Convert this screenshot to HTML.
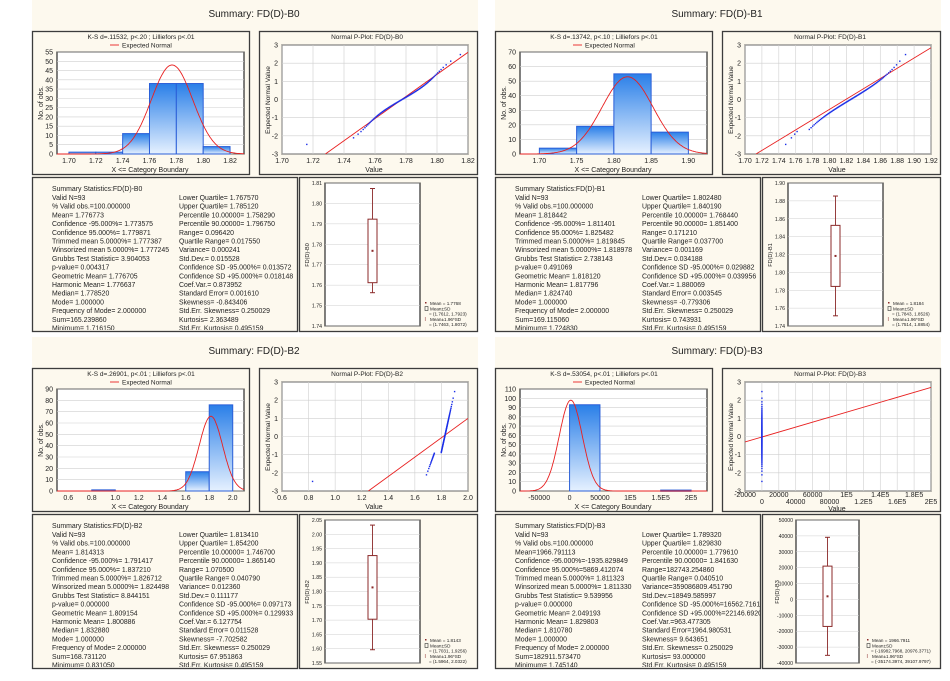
<!DOCTYPE html>
<html><head><meta charset="utf-8"><style>
html,body{margin:0;padding:0;background:#fff;width:950px;height:681px;overflow:hidden}
svg{display:block;font-family:"Liberation Sans",Arial,sans-serif}
</style></head><body>
<svg id="s" width="950" height="681" xmlns="http://www.w3.org/2000/svg">
<defs>
<linearGradient id="bg" x1="0" y1="0" x2="0" y2="1"><stop offset="0" stop-color="#2a7fe8"/><stop offset="1" stop-color="#e6f1ff"/></linearGradient>
</defs>
</svg>
<script>
const S=document.getElementById('s');const NS='http://www.w3.org/2000/svg';
function el(t,a,txt,p){const e=document.createElementNS(NS,t);for(const k in a)e.setAttribute(k,a[k]);if(txt!==undefined)e.textContent=txt;(p||S).appendChild(e);return e;}
function lin(d0,d1,r0,r1){return v=>r0+(v-d0)*(r1-r0)/(d1-d0);}
function erf(x){const s=x<0?-1:1;x=Math.abs(x);const t=1/(1+0.3275911*x);const y=1-(((((1.061405429*t-1.453152027)*t)+1.421413741)*t-0.284496736)*t+0.254829592)*t*Math.exp(-x*x);return s*y;}
function cdf(z){return 0.5*(1+erf(z/Math.SQRT2));}
function inv(p){let a=-6,b=6;for(let i=0;i<60;i++){const m=(a+b)/2;if(cdf(m)<p)a=m;else b=m;}return (a+b)/2;}
const Q=[
{ox:0,oy:0,name:'B0',ks:'K-S d=.11532, p<.20 ; Lilliefors p<.01',
 hx:[1.6911,1.8304],ht:[1.70,1.72,1.74,1.76,1.78,1.80,1.82],hl:['1.70','1.72','1.74','1.76','1.78','1.80','1.82'],hy:55,hs:5,
 bars:[[1.70,1.72,1],[1.72,1.74,1],[1.74,1.76,11],[1.76,1.78,38],[1.78,1.80,38],[1.80,1.82,4]],cm:1.7768,csd:0.0155,cp:48,
 px:[1.70,1.82],pt:[1.70,1.72,1.74,1.76,1.78,1.80,1.82],pl:['1.70','1.72','1.74','1.76','1.78','1.80','1.82'],line:[[1.728,-3],[1.82,2.6]],
 pf:z=>{let v=1.7775+0.0158*z+0.002*Math.sin(z*2.2);if(z<-2.2)v=z<-2.4?1.716:1.727;return v;},
 by:[1.74,1.81],bt:[1.74,1.75,1.76,1.77,1.78,1.79,1.80,1.81],bl:['1.74','1.75','1.76','1.77','1.78','1.79','1.80','1.81'],bw:[1.7563,1.8073],bb:[1.7612,1.7923],bm:1.7768,
 leg:['Mean = 1.7768','Mean±SD','= (1.7612, 1.7923)','Mean±1.96*SD','= (1.7463, 1.8072)'],
 L:['Valid N=93','% Valid obs.=100.000000','Mean= 1.776773','Confidence -95.000%= 1.773575','Confidence 95.000%= 1.779871','Trimmed mean 5.0000%= 1.777387','Winsorized mean 5.0000%= 1.777245','Grubbs Test Statistic= 3.904053','p-value= 0.004317','Geometric Mean= 1.776705','Harmonic Mean= 1.776637','Median= 1.778520','Mode= 1.000000','Frequency of Mode= 2.000000','Sum=165.239860','Minimum= 1.716150'],
 R:['Lower Quartile= 1.767570','Upper Quartile= 1.785120','Percentile 10.00000= 1.758290','Percentile 90.00000= 1.796750','Range= 0.096420','Quartile Range= 0.017550','Variance= 0.000241','Std.Dev.= 0.015528','Confidence SD -95.000%= 0.013572','Confidence SD +95.000%= 0.018148','Coef.Var.= 0.873952','Standard Error= 0.001610','Skewness= -0.843406','Std.Err. Skewness= 0.250029','Kurtosis= 2.363489','Std.Err. Kurtosis= 0.495159']},
{ox:463,oy:0,name:'B1',ks:'K-S d=.13742, p<.10 ; Lilliefors p<.01',
 hx:[1.674,1.925],ht:[1.70,1.75,1.80,1.85,1.90],hl:['1.70','1.75','1.80','1.85','1.90'],hy:70,hs:10,
 bars:[[1.70,1.75,4],[1.75,1.80,19],[1.80,1.85,55],[1.85,1.90,15]],cm:1.8184,csd:0.0342,cp:53,
 px:[1.70,1.92],pt:[1.70,1.72,1.74,1.76,1.78,1.80,1.82,1.84,1.86,1.88,1.90,1.92],pl:['1.70','1.72','1.74','1.76','1.78','1.80','1.82','1.84','1.86','1.88','1.90','1.92'],line:[[1.713,-3],[1.92,2.85]],
 pf:z=>1.825+0.027*z+0.006*Math.sin(z*1.4)+(z<-1.7?-0.012:0),
 by:[1.74,1.90],bt:[1.74,1.76,1.78,1.80,1.82,1.84,1.86,1.88,1.90],bl:['1.74','1.76','1.78','1.80','1.82','1.84','1.86','1.88','1.90'],bw:[1.7514,1.8854],bb:[1.7843,1.8526],bm:1.8184,
 leg:['Mean = 1.8184','Mean±SD','= (1.7843, 1.8526)','Mean±1.96*SD','= (1.7514, 1.8854)'],
 L:['Valid N=93','% Valid obs.=100.000000','Mean= 1.818442','Confidence -95.000%= 1.811401','Confidence 95.000%= 1.825482','Trimmed mean 5.0000%= 1.819845','Winsorized mean 5.0000%= 1.818978','Grubbs Test Statistic= 2.738143','p-value= 0.491069','Geometric Mean= 1.818120','Harmonic Mean= 1.817796','Median= 1.824740','Mode= 1.000000','Frequency of Mode= 2.000000','Sum=169.115060','Minimum= 1.724830'],
 R:['Lower Quartile= 1.802480','Upper Quartile= 1.840190','Percentile 10.00000= 1.768440','Percentile 90.00000= 1.851400','Range= 0.171210','Quartile Range= 0.037700','Variance= 0.001169','Std.Dev.= 0.034188','Confidence SD -95.000%= 0.029882','Confidence SD +95.000%= 0.039956','Coef.Var.= 1.880069','Standard Error= 0.003545','Skewness= -0.779306','Std.Err. Skewness= 0.250029','Kurtosis= 0.743931','Std.Err. Kurtosis= 0.495159']},
{ox:0,oy:337,name:'B2',ks:'K-S d=.26901, p<.01 ; Lilliefors p<.01',
 hx:[0.504,2.096],ht:[0.6,0.8,1.0,1.2,1.4,1.6,1.8,2.0],hl:['0.6','0.8','1.0','1.2','1.4','1.6','1.8','2.0'],hy:90,hs:10,
 bars:[[0.8,1.0,1],[1.6,1.8,17],[1.8,2.0,76]],cm:1.814,csd:0.1,cp:66,
 px:[0.6,2.0],pt:[0.6,0.8,1.0,1.2,1.4,1.6,1.8,2.0],pl:['0.6','0.8','1.0','1.2','1.4','1.6','1.8','2.0'],line:[[1.25,-3],[2.0,1.0]],
 pf:z=>{if(z<-2.3)return 0.83;return 1.825+0.03*z+(z<-0.9?-0.05+0.02*(z+0.9):0);},
 by:[1.55,2.05],bt:[1.55,1.60,1.65,1.70,1.75,1.80,1.85,1.90,1.95,2.00,2.05],bl:['1.55','1.60','1.65','1.70','1.75','1.80','1.85','1.90','1.95','2.00','2.05'],bw:[1.5964,2.0322],bb:[1.7031,1.9256],bm:1.8143,
 leg:['Mean = 1.8143','Mean±SD','= (1.7031, 1.9256)','Mean±1.96*SD','= (1.5964, 2.0322)'],
 L:['Valid N=93','% Valid obs.=100.000000','Mean= 1.814313','Confidence -95.000%= 1.791417','Confidence 95.000%= 1.837210','Trimmed mean 5.0000%= 1.826712','Winsorized mean 5.0000%= 1.824498','Grubbs Test Statistic= 8.844151','p-value= 0.000000','Geometric Mean= 1.809154','Harmonic Mean= 1.800886','Median= 1.832880','Mode= 1.000000','Frequency of Mode= 2.000000','Sum=168.731120','Minimum= 0.831050'],
 R:['Lower Quartile= 1.813410','Upper Quartile= 1.854200','Percentile 10.00000= 1.746700','Percentile 90.00000= 1.865140','Range= 1.070500','Quartile Range= 0.040790','Variance= 0.012360','Std.Dev.= 0.111177','Confidence SD -95.000%= 0.097173','Confidence SD +95.000%= 0.129933','Coef.Var.= 6.127754','Standard Error= 0.011528','Skewness= -7.702582','Std.Err. Skewness= 0.250029','Kurtosis= 67.951863','Std.Err. Kurtosis= 0.495159']},
{ox:463,oy:337,name:'B3',ks:'K-S d=.53054, p<.01 ; Lilliefors p<.01',
 hx:[-81600,226200],ht:[-50000,0,50000,100000,150000,200000],hl:['-50000','0','50000','1E5','1.5E5','2E5'],hy:110,hs:10,
 bars:[[0,50000,93],[150000,200000,1]],cm:2000,csd:19000,cp:98,
 px:[-20000,200000],pt:[-20000,0,20000,40000,60000,80000,100000,120000,140000,160000,180000,200000],pl:['-20000','0','20000','40000','60000','80000','1E5','1.2E5','1.4E5','1.6E5','1.8E5','2E5'],two:1,line:[[-20000,-0.3],[200000,2.7]],
 pf:z=>0,
 by:[-40000,50000],bt:[-40000,-30000,-20000,-10000,0,10000,20000,30000,40000,50000],bl:['-40000','-30000','-20000','-10000','0','10000','20000','30000','40000','50000'],bw:[-35174,39107],bb:[-16982,20976],bm:1966,narrow:1,
 leg:['Mean = 1966.7911','Mean±SD','= (-16982.7968, 20976.3771)','Mean±1.96*SD','= (-35174.3974, 39107.9797)'],
 L:['Valid N=93','% Valid obs.=100.000000','Mean=1966.791113','Confidence -95.000%=-1935.829849','Confidence 95.000%=5869.412074','Trimmed mean 5.0000%= 1.811323','Winsorized mean 5.0000%= 1.811330','Grubbs Test Statistic= 9.539956','p-value= 0.000000','Geometric Mean= 2.049193','Harmonic Mean= 1.829803','Median= 1.810780','Mode= 1.000000','Frequency of Mode= 2.000000','Sum=182911.573470','Minimum= 1.745140'],
 R:['Lower Quartile= 1.789320','Upper Quartile= 1.829830','Percentile 10.00000= 1.779610','Percentile 90.00000= 1.841630','Range=182743.254860','Quartile Range= 0.040510','Variance=359086809.451790','Std.Dev.=18949.585997','Confidence SD -95.000%=16562.716181','Confidence SD +95.000%=22146.692011','Coef.Var.=963.477305','Standard Error=1964.980531','Skewness= 9.643651','Std.Err. Skewness= 0.250029','Kurtosis= 93.000000','Std.Err. Kurtosis= 0.495159']}
];
const F='#fdf9ee',B='#3c3c3c',G='#cfcfcf',TX='#222';
Q.forEach(q=>{
 const g=el('g',{transform:`translate(${q.ox},${q.oy})`});
 el('rect',{x:32,y:0,width:446,height:331,fill:F},undefined,g);
 el('text',{x:254,y:17,'font-size':10,'text-anchor':'middle',fill:TX},'Summary: FD(D)-'+q.name,g);
 // boxes
 [[32,31,217,143],[259,31,218,143],[32,177,265,154],[299,177,178,154]].forEach(r=>el('rect',{x:r[0]+.5,y:r[1]+.5,width:r[2],height:r[3],fill:F,stroke:B,'stroke-width':1.3},undefined,g));
 // histogram
 const X=lin(q.hx[0],q.hx[1],57,244),Y=lin(0,q.hy,154,52);
 el('rect',{x:57,y:52,width:187,height:102,fill:'#fff',stroke:'#000','stroke-width':1},undefined,g);
 for(let v=0;v<=q.hy;v+=q.hs){el('line',{x1:57,x2:244,y1:Y(v),y2:Y(v),stroke:G,'stroke-width':.6},undefined,g);el('text',{x:53,y:Y(v)+2.5,'font-size':7,'text-anchor':'end',fill:TX},v,g);}
 q.bars.forEach(b=>{const h=154-Y(b[2]);el('rect',{x:X(b[0]),y:Y(b[2]),width:X(b[1])-X(b[0]),height:Math.max(h,1.2),fill:'url(#bg)',stroke:'#2a5fd8','stroke-width':1},undefined,g);});
 let d='';for(let i=0;i<=200;i++){const v=q.hx[0]+(q.hx[1]-q.hx[0])*i/200;const y=q.cp*Math.exp(-0.5*((v-q.cm)/q.csd)**2);d+=(i?'L':'M')+X(v).toFixed(1)+','+Y(y).toFixed(1);}
 el('path',{d,fill:'none',stroke:'#e82020','stroke-width':.9},undefined,g);
 q.ht.forEach((v,i)=>el('text',{x:X(v),y:163,'font-size':7,'text-anchor':'middle',fill:TX},q.hl[i],g));
 el('text',{x:150,y:172,'font-size':7,'text-anchor':'middle',fill:TX},'X <= Category Boundary',g);
 el('text',{x:0,y:0,'font-size':7,'text-anchor':'middle',fill:TX,transform:'translate(43,103) rotate(-90)'},'No. of obs.',g);
 el('text',{x:141,y:39,'font-size':6.5,'text-anchor':'middle',fill:TX},q.ks,g);
 el('line',{x1:110,x2:119,y1:45,y2:45,stroke:'#e82020','stroke-width':.9},undefined,g);
 el('text',{x:122,y:47.5,'font-size':6.5,fill:TX},'Expected Normal',g);
 // p-plot
 const PX=lin(q.px[0],q.px[1],282,468),PY=lin(-3,3,154,45);
 el('rect',{x:282,y:45,width:186,height:109,fill:'#fff',stroke:'#000','stroke-width':1},undefined,g);
 q.pt.forEach((v,i)=>{el('line',{x1:PX(v),x2:PX(v),y1:45,y2:154,stroke:G,'stroke-width':.6},undefined,g);el('text',{x:PX(v),y:q.two?(i%2?167:160):163,'font-size':7,'text-anchor':'middle',fill:TX},q.pl[i],g);});
 for(let v=-3;v<=3;v++){el('line',{x1:282,x2:468,y1:PY(v),y2:PY(v),stroke:G,'stroke-width':.6},undefined,g);el('text',{x:278,y:PY(v)+2.5,'font-size':7,'text-anchor':'end',fill:TX},v,g);}
 const cl=el('clipPath',{id:'c'+q.name},undefined,g);el('rect',{x:282,y:45,width:186,height:109},undefined,cl);
 const pg=el('g',{'clip-path':`url(#c${q.name})`},undefined,g);
 el('line',{x1:PX(q.line[0][0]),y1:PY(q.line[0][1]),x2:PX(q.line[1][0]),y2:PY(q.line[1][1]),stroke:'#e82020','stroke-width':.9},undefined,pg);
 for(let i=1;i<=93;i++){const z=inv((i-0.375)/93.25);const v=q.pf(z);el('rect',{x:PX(v)-.7,y:PY(z)-.7,width:1.4,height:1.4,fill:'#1a2ee8'},undefined,pg);}
 el('text',{x:367,y:39,'font-size':6.5,'text-anchor':'middle',fill:TX},'Normal P-Plot: FD(D)-'+q.name,g);
 el('text',{x:374,y:q.two?174:172,'font-size':7,'text-anchor':'middle',fill:TX},'Value',g);
 el('text',{x:0,y:0,'font-size':6.5,'text-anchor':'middle',fill:TX,transform:'translate(270,100) rotate(-90)'},'Expected Normal Value',g);
 // stats
 const sc=el('clipPath',{id:'s'+q.name},undefined,g);el('rect',{x:33,y:178,width:264,height:152},undefined,sc);
 const sg=el('g',{'clip-path':`url(#s${q.name})`,'font-size':6.9,fill:TX},undefined,g);
 el('text',{x:52,y:191},'Summary Statistics:FD(D)-'+q.name,sg);
 q.L.forEach((t,i)=>el('text',{x:52,y:200+i*8.7},t,sg));
 q.R.forEach((t,i)=>el('text',{x:179,y:200+i*8.7},t,sg));
 // box plot
 const bx0=q.narrow?333:325,bx1=q.narrow?396:420,cx=(bx0+bx1)/2;
 const BY=lin(q.by[0],q.by[1],326,183);
 el('rect',{x:bx0,y:183,width:bx1-bx0,height:143,fill:'#fff',stroke:'#000','stroke-width':1},undefined,g);
 q.bt.forEach((v,i)=>{el('line',{x1:bx0,x2:bx1,y1:BY(v),y2:BY(v),stroke:G,'stroke-width':.5},undefined,g);el('text',{x:bx0-3,y:BY(v)+2,'font-size':5.2,'text-anchor':'end',fill:TX},q.bl[i],g);});
 const C='#8b2a2a';
 el('line',{x1:cx,x2:cx,y1:BY(q.bw[0]),y2:BY(q.bw[1]),stroke:C,'stroke-width':.9},undefined,g);
 [q.bw[0],q.bw[1]].forEach(v=>el('line',{x1:cx-2.5,x2:cx+2.5,y1:BY(v),y2:BY(v),stroke:C,'stroke-width':1},undefined,g));
 el('rect',{x:cx-4.5,y:BY(q.bb[1]),width:9,height:BY(q.bb[0])-BY(q.bb[1]),fill:'#fff',stroke:C,'stroke-width':1},undefined,g);
 el('rect',{x:cx-1,y:BY(q.bm)-1,width:2,height:2,fill:C},undefined,g);
 el('text',{x:0,y:0,'font-size':5.5,'text-anchor':'middle',fill:TX,transform:`translate(${q.narrow?316:309},255) rotate(-90)`},'FD(D)-'+q.name,g);
 const lx=q.narrow?404:425;
 q.leg.forEach((t,i)=>el('text',{x:lx+(i==2||i==4?4:5),y:305+i*5.3,'font-size':4.6,fill:TX},t,g));
 el('rect',{x:lx,y:302,width:1.5,height:1.5,fill:C},undefined,g);
 el('rect',{x:lx,y:306.5,width:3,height:4,fill:'none',stroke:'#333','stroke-width':.6},undefined,g);
 el('text',{x:lx-.5,y:321,'font-size':5,fill:C},'I',g);
});
</script>
</body></html>
